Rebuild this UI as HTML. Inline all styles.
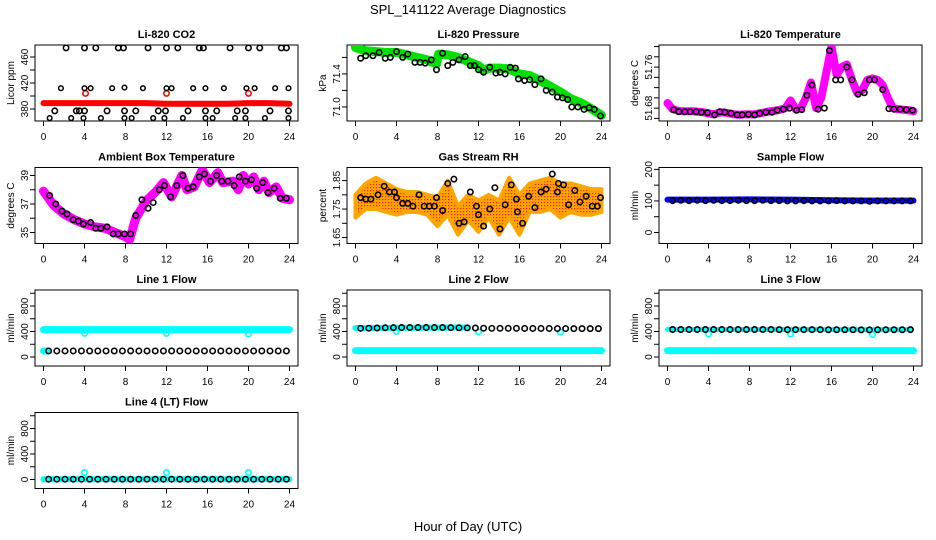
<!DOCTYPE html>
<html><head><meta charset="utf-8"><style>
html,body{margin:0;padding:0;background:#fff;}
svg{display:block;font-family:"Liberation Sans",Arial,sans-serif;}
</style></head><body>
<svg id="chart" width="936" height="540" viewBox="0 0 936 540" xmlns="http://www.w3.org/2000/svg">
<defs>
<pattern id="rhdots" width="3" height="3" patternUnits="userSpaceOnUse"><rect width="3" height="3" fill="#ffa500"/><rect x="1" y="1" width="1.2" height="1.2" fill="#ff2000"/></pattern>
</defs>
<text x="468" y="14" text-anchor="middle" font-size="13">SPL_141122  Average Diagnostics</text>
<text x="468" y="531" text-anchor="middle" font-size="13">Hour of Day (UTC)</text>
</svg>
<script>
// ---- data ----
const co2TopH = [2.2,4,5.1,7.3,7.8,10.2,12,13.1,15.2,15.6,18.2,20,21.1,23.2,23.7];
const co2TopV = [474,474,474,474,474,474,474,474,474,474,474,474,474,474,474];
const co2MidH = [1.7,4,4.6,6.7,7.9,9.7,12,12.5,14.6,15.8,17.6,19.8,20.6,22.6,23.9];
const co2MidV = [412,412,412,412,413,412,412,412,412,412,412,412,412,412,412];
const co2LowH = [1.1,3.2,3.5,4,6.2,7.9,9,11.2,11.9,14.1,15.8,16.9,18.9,19.7,22.1,23.9];
const co2LowV = [377,377,377,377,377,377,377,377,377,377,377,377,377,377,377,377];
const co2BotH = [0.6,2.7,3.9,5.6,7.9,8.6,10.7,11.8,13.6,15.8,16.5,18.7,19.7,21.6,23.9];
const co2BotV = [366,366,366,366,366,366,366,366,366,366,366,366,366,366,366];
const co2RedH = [0,2,4,6,8,10,12,14,16,18,20,22,24];
const co2RedV = [389,389,389,389,389,389,388,388,388,388,389,389,388];
const co2RedMarkH = [4.1,12,20];
const co2RedMarkV = [404,404,404];

const presH = [0.5,1.0,1.7,2.3,2.9,3.4,4.0,4.6,5.1,5.8,6.3,6.8,7.4,7.9,8.5,9.0,9.5,10.1,10.7,11.2,11.6,12.0,12.5,13.1,13.7,14.1,14.6,15.1,15.6,15.9,16.5,17.0,17.5,18.1,18.6,19.2,19.7,20.2,20.7,21.1,21.7,22.3,22.8,23.3,23.9];
const presV = [71.59,71.62,71.62,71.66,71.59,71.60,71.67,71.60,71.64,71.54,71.54,71.53,71.57,71.45,71.65,71.50,71.54,71.57,71.61,71.50,71.50,71.45,71.42,71.48,71.41,71.42,71.40,71.48,71.47,71.34,71.32,71.33,71.27,71.34,71.20,71.18,71.12,71.11,71.09,71.00,71.00,70.97,70.99,70.97,70.89];
const presGreenH = [0,1,2,3,4,5,6,7,7.9,8.1,9,10,11,12,12.5,13,14,15,16,17,18,19,20,21,22,23,24];
const presGreenV = [71.72,71.68,71.67,71.66,71.66,71.63,71.60,71.57,71.52,71.64,71.63,71.60,71.55,71.50,71.44,71.47,71.47,71.46,71.40,71.38,71.32,71.25,71.18,71.10,71.05,70.98,70.90];

const tempH = [0.6,1.1,1.7,2.2,2.8,3.3,3.9,4.6,5.1,5.6,6.2,6.8,7.3,7.9,8.5,9.0,9.6,10.2,10.7,11.3,11.9,12.6,13.1,13.6,14.1,14.7,15.3,15.8,16.4,16.9,17.5,18.0,18.6,19.2,19.7,20.2,21.0,21.6,22.1,22.7,23.3,23.9];
const tempV = [51.677,51.673,51.673,51.673,51.673,51.672,51.671,51.667,51.673,51.672,51.670,51.667,51.667,51.668,51.667,51.670,51.672,51.672,51.676,51.678,51.680,51.676,51.677,51.705,51.725,51.678,51.680,51.792,51.735,51.735,51.760,51.735,51.707,51.710,51.735,51.735,51.716,51.679,51.678,51.678,51.677,51.676];
const tempMagH = [0,0.5,1,1.5,2,2.5,3,3.5,4,4.5,5,5.5,6,6.5,7,7.5,8,8.5,9,9.5,10,10.5,11,11.5,12,12.5,13,13.5,14,14.5,15,15.5,16,16.5,17,17.5,18,18.5,19,19.5,20,20.5,21,21.5,22,22.5,23,23.5,24];
const tempMagV = [51.690,51.678,51.675,51.674,51.674,51.674,51.673,51.672,51.670,51.668,51.671,51.672,51.670,51.668,51.667,51.668,51.668,51.668,51.670,51.672,51.674,51.675,51.677,51.680,51.695,51.678,51.680,51.700,51.730,51.680,51.700,51.750,51.800,51.745,51.760,51.765,51.735,51.710,51.715,51.735,51.738,51.735,51.725,51.700,51.680,51.678,51.677,51.676,51.674];

const ambH = [0.6,1.2,1.8,2.3,2.9,3.4,3.9,4.6,5.1,5.6,6.2,6.8,7.3,7.9,8.5,9.0,9.6,10.2,10.7,11.3,11.8,12.4,13.0,13.6,14.1,14.6,15.2,15.7,16.3,16.9,17.4,18.0,18.6,19.1,19.7,20.3,20.8,21.4,21.9,22.5,23.1,23.7];
const ambV = [37.6,37.0,36.5,36.3,35.9,35.8,35.6,35.7,35.3,35.3,35.4,34.9,34.9,34.9,34.9,36.2,37.3,36.7,37.1,38.0,38.3,37.5,38.3,39.0,38.1,38.2,38.9,39.1,38.6,39.0,38.6,38.6,38.3,38.9,38.6,38.7,38.1,38.5,37.8,38.1,37.4,37.4];
const ambMagH = [0,1,2,3,4,5,6,7,8,8.4,9,10,11,11.7,12.5,13.5,14,14.7,15.5,16.2,17,17.5,18.5,19,19.5,20,20.5,21,21.5,22,22.7,23.3,24];
const ambMagV = [37.9,36.9,36.3,35.9,35.6,35.4,35.3,35.0,34.7,34.5,36.0,37.2,37.9,38.5,37.5,39.0,38.0,38.2,39.4,38.5,39.2,38.5,38.6,38.0,39.0,38.4,38.9,38.0,38.6,37.8,38.2,37.4,37.3];

const rhH = [0.5,1.0,1.5,2.2,2.8,3.3,3.8,4.0,4.6,5.1,5.6,6.2,6.7,7.2,7.7,7.9,8.5,9.0,9.6,10.1,10.6,11.2,11.8,12.0,12.5,13.1,13.6,14.1,14.6,15.2,15.7,15.8,16.3,16.9,17.5,18.1,18.6,19.2,19.7,19.8,20.3,20.8,21.4,21.9,22.5,23.1,23.6,23.9];
const rhV = [1.79,1.785,1.785,1.80,1.83,1.81,1.81,1.79,1.77,1.77,1.76,1.80,1.76,1.76,1.76,1.79,1.745,1.84,1.855,1.70,1.705,1.81,1.76,1.73,1.69,1.75,1.825,1.68,1.765,1.835,1.785,1.74,1.70,1.795,1.755,1.81,1.82,1.873,1.81,1.84,1.835,1.765,1.815,1.775,1.795,1.76,1.76,1.79];
const rhBandH = [0,1,2,3,4,5,6,7,8,9,10,11,12,13,14,15,16,17,18,19,20,21,22,23,24];
const rhBandLow = [1.72,1.75,1.75,1.74,1.73,1.74,1.74,1.73,1.69,1.73,1.66,1.71,1.67,1.72,1.66,1.72,1.66,1.74,1.74,1.75,1.72,1.74,1.73,1.73,1.74];
const rhBandHigh = [1.80,1.84,1.86,1.84,1.82,1.81,1.81,1.80,1.79,1.85,1.76,1.80,1.78,1.80,1.78,1.86,1.80,1.84,1.85,1.86,1.84,1.84,1.83,1.82,1.82];

const flowT = [0.5,1.3,2.1,2.9,3.7,4.5,5.3,6.1,6.9,7.7,8.5,9.3,10.1,10.9,11.7,12.5,13.3,14.1,14.9,15.7,16.5,17.3,18.1,18.9,19.7,20.5,21.3,22.1,22.9,23.7];
const sampleBlack = [101,102,101,102,101,102,101,101,102,101,101,102,101,101,100,100,101,100,100,100,101,100,100,100,99,100,100,100,100,100];
const sampleBlueH = [0,4,8,12,16,20,24];
const sampleBlueV = [104,104,105,104,102,101,101];

const line1Black = [95,95,95,95,95,95,95,95,95,95,96,95,95,95,95,95,95,95,95,95,95,95,95,95,95,95,95,95,95,95];
const line1CyanH = [0,24];
const line1CyanV = [430,430];
const line1MarkH = [4,12,20];
const line1MarkV = [370,370,360];

const line2Black = [450,452,455,458,460,462,462,462,462,462,462,460,458,456,455,452,450,450,450,450,448,448,448,448,446,446,445,445,445,445];
const line2CyanH = [0,24];
const line2CyanV = [100,100];
const line2MarkH = [4,12,20];
const line2MarkV = [400,395,390];

const line3Black = [432,432,432,432,432,432,432,432,432,432,432,432,432,430,430,430,430,430,430,428,428,428,428,426,426,428,428,428,428,430];
const line3CyanH = [0,24];
const line3CyanV = [100,100];
const line3MarkH = [4,12,20];
const line3MarkV = [360,360,350];

const line4Black = [5,5,5,5,5,5,5,5,5,5,5,5,5,5,5,5,5,5,5,5,5,5,5,5,5,5,5,5,5,5];
const line4CyanH = [0,24];
const line4CyanV = [5,5];
const line4MarkH = [4,12,20];
const line4MarkV = [110,110,110];

const xTicks = [0,4,8,12,16,20,24];

// ---- rendering ----
const svg = document.getElementById('chart');
const NS = 'http://www.w3.org/2000/svg';
function mk(tag, attrs, parent){
  const e = document.createElementNS(NS, tag);
  for (const k in attrs) e.setAttribute(k, attrs[k]);
  (parent||svg).appendChild(e);
  return e;
}
const colL = [35, 347, 659];
const rowT = [45, 167.5, 290, 412.5];
const W = 263, H = 76;
const X0 = -0.83, X1 = 24.83;

function panel(col,row,title,ylab,y0,y1,ticks,labels,name){
  const g = mk('g',{});
  
  
  const L = colL[col], T = rowT[row];
  const sx = h => L + (h - X0)/(X1 - X0)*W;
  const sy = v => T + H - (v - y0)/(y1 - y0)*H;
  const box = mk('rect',{x:L,y:T,width:W,height:H,fill:'none',stroke:'#000','stroke-width':1},g);
  
  
  const t = mk('text',{x:L+W/2,y:T-7,'text-anchor':'middle','font-size':11,'font-weight':'bold'},g);
  t.textContent = title;
  
  
  const yl = mk('text',{x:0,y:0,'text-anchor':'middle','font-size':10,transform:`translate(${L-21},${T+H/2}) rotate(-90)`},g);
  yl.textContent = ylab;
  
  
  xTicks.forEach(h=>{
    const x = sx(h);
    mk('line',{x1:x,x2:x,y1:T+H,y2:T+H+5,stroke:'#000'},g);
    const tx = mk('text',{x:x,y:T+H+19,'text-anchor':'middle','font-size':10},g);
    tx.textContent = h;
    
    
  });
  ticks.forEach((v,i)=>{
    const y = sy(v);
    mk('line',{x1:L,x2:L-5,y1:y,y2:y,stroke:'#000'},g);
    if (labels[i]!==''){
      const ty = mk('text',{x:0,y:0,'text-anchor':'middle','font-size':10,transform:`translate(${L-7},${y}) rotate(-90)`},g);
      ty.textContent = labels[i];
      
      
    }
  });
  const clip = mk('clipPath',{id:'c'+name},g);
  mk('rect',{x:L,y:T,width:W,height:H},clip);
  const d = mk('g',{'clip-path':`url(#c${name})`},g);
  return {sx,sy,g:d};
}
function band(p,hs,vs,color,w,name){
  const pts = hs.map((h,i)=>p.sx(h)+','+p.sy(vs[i])).join(' ');
  const e = mk('polyline',{points:pts,fill:'none',stroke:color,'stroke-width':w,'stroke-linejoin':'round','stroke-linecap':'round'},p.g);
  
  
}
function pts(p,hs,vs,color,name,r,sw){
  hs.forEach((h,i)=>{
    const c = mk('circle',{cx:p.sx(h),cy:p.sy(vs[i]),r:r||2.7,fill:'none',stroke:color,'stroke-width':sw||1.6},p.g);
    
    
  });
}

// CO2
let p = panel(0,0,'Li-820 CO2','Licor ppm',361.5,478.5,[380,400,420,440,460],['380','','420','','460'],'co2');
band(p,co2RedH,co2RedV,'#ff0000',6,'co2-red-series');
pts(p,co2RedMarkH,co2RedMarkV,'#ff0000','co2-red-point');
pts(p,co2TopH,co2TopV,'#000','co2-point');
pts(p,co2MidH,co2MidV,'#000','co2-point',2.3,1.5);
pts(p,co2LowH,co2LowV,'#000','co2-point');
pts(p,co2BotH,co2BotV,'#000','co2-point',2.3,1.5);

// Pressure
p = panel(1,0,'Li-820 Pressure','kPa',70.83,71.75,[71.0,71.2,71.4,71.6],['71.0','','71.4',''],'pressure');
band(p,presGreenH,presGreenV,'#00e000',9,'pressure-green-series');
pts(p,presH,presV,'#000','pressure-point');

// Temperature
p = panel(2,0,'Li-820 Temperature','degrees C',51.655,51.803,[51.66,51.68,51.70,51.72,51.74,51.76,51.78,51.80],['','51.68','','','','51.76','',''],'temperature');
band(p,tempMagH,tempMagV,'#ff00ff',8,'temperature-magenta-series');
pts(p,tempH,tempV,'#000','temperature-point');

// Ambient
p = panel(0,1,'Ambient Box Temperature','degrees C',34.23,39.56,[35,36,37,38,39],['35','','37','','39'],'ambient');
band(p,ambMagH,ambMagV,'#ff00ff',9,'ambient-magenta-series');
pts(p,ambH,ambV,'#000','ambient-point');

// RH
p = panel(1,1,'Gas Stream RH','percent',1.629,1.896,[1.65,1.70,1.75,1.80,1.85],['1.65','','1.75','','1.85'],'rh');
{
  const up = rhBandH.map((h,i)=>p.sx(h)+','+p.sy(rhBandHigh[i]));
  const lo = rhBandH.map((h,i)=>p.sx(h)+','+p.sy(rhBandLow[i])).reverse();
  const poly = mk('polygon',{points:up.concat(lo).join(' '),fill:'url(#rhdots)',stroke:'#ffa500','stroke-width':4,'stroke-linejoin':'round'},p.g);
  
  
}
pts(p,rhH,rhV,'#000','rh-point');

// Sample flow
p = panel(2,1,'Sample Flow','ml/min',-35,206,[0,50,100,150,200],['0','','100','','200'],'sample-flow');
band(p,sampleBlueH,sampleBlueV,'#0000ff',6,'sample-flow-blue-series');
pts(p,flowT,sampleBlack,'#000','sample-flow-point');

const fT = [0,200,400,600,800,1000], fL = ['0','','400','','800',''];
// Line 1
p = panel(0,2,'Line 1 Flow','ml/min',-141,1051,fT,fL,'line1');
band(p,line1CyanH,line1CyanV,'#00ffff',7,'line1-cyan-series');
band(p,[0,0.5],[95,95],'#00ffff',7,'line1-cyan-low');
pts(p,line1MarkH,line1MarkV,'#00ffff','line1-cyan-point');
pts(p,flowT,line1Black,'#000','line1-point');
// Line 2
p = panel(1,2,'Line 2 Flow','ml/min',-141,1051,fT,fL,'line2');
band(p,line2CyanH,line2CyanV,'#00ffff',7,'line2-cyan-series');
band(p,[0,11],[455,462],'#00ffff',6,'line2-cyan-high');
pts(p,line2MarkH,line2MarkV,'#00ffff','line2-cyan-point');
pts(p,flowT,line2Black,'#000','line2-point');
// Line 3
p = panel(2,2,'Line 3 Flow','ml/min',-141,1051,fT,fL,'line3');
band(p,line3CyanH,line3CyanV,'#00ffff',7,'line3-cyan-series');
band(p,[0,23.7],[432,430],'#00ffff',5,'line3-cyan-high');
pts(p,line3MarkH,line3MarkV,'#00ffff','line3-cyan-point');
pts(p,flowT,line3Black,'#000','line3-point');
// Line 4
p = panel(0,3,'Line 4 (LT) Flow','ml/min',-141,1051,fT,fL,'line4');
band(p,line4CyanH,line4CyanV,'#00ffff',6,'line4-cyan-series');
pts(p,line4MarkH,line4MarkV,'#00ffff','line4-cyan-point');
pts(p,flowT,line4Black,'#000','line4-point');
</script>
</body></html>
